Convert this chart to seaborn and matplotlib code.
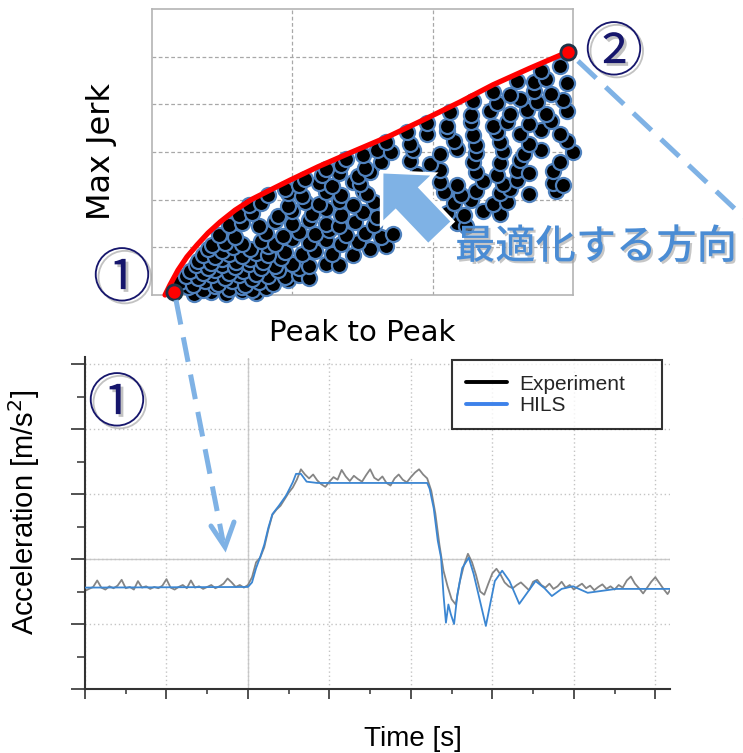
import numpy as np
import pandas as pd
import matplotlib
matplotlib.use("Agg")
import matplotlib.pyplot as plt
import seaborn as sns
from matplotlib.lines import Line2D
from matplotlib.patches import FancyArrow
from matplotlib.transforms import IdentityTransform
from matplotlib.ticker import MultipleLocator
import matplotlib.patheffects as pe

# ---------------- data : top chart (Pareto scatter) ----------------
designs = [
    (0.30, 0.03), (0.42, 0.07), (0.53, 0.02), (0.64, 0.08), (0.74, 0.04),
    (0.26, 0.16), (0.36, 0.11), (0.45, 0.19), (0.55, 0.12), (0.64, 0.17), (0.71, 0.10), (0.81, 0.15),
    (0.20, 0.27), (0.29, 0.22), (0.38, 0.30), (0.47, 0.24), (0.57, 0.29), (0.66, 0.21), (0.76, 0.28),
    (0.86, 0.23), (0.97, 0.31),
    (0.24, 0.40), (0.33, 0.35), (0.43, 0.42), (0.52, 0.36), (0.62, 0.41), (0.71, 0.34), (0.83, 0.40),
    (0.95, 0.37), (1.05, 0.43), (1.12, 0.35),
    (0.27, 0.50), (0.36, 0.46), (0.45, 0.53), (0.55, 0.47), (0.65, 0.51), (0.74, 0.45), (0.90, 0.52),
    (1.05, 0.56),
    (0.31, 0.62), (0.40, 0.57), (0.50, 0.63), (0.59, 0.58), (0.69, 0.64), (0.78, 0.56), (0.88, 0.61),
    (1.00, 0.66), (1.12, 0.60), (1.24, 0.64), (1.33, 0.62),
    (0.33, 0.72), (0.42, 0.68), (0.50, 0.75), (0.60, 0.70), (0.70, 0.76), (0.79, 0.69), (0.92, 0.78),
    (0.36, 0.83), (0.45, 0.79), (0.55, 0.86), (0.64, 0.81), (0.74, 0.88), (0.83, 0.84), (0.95, 0.90),
    (1.07, 0.85), (1.16, 0.93), (1.28, 0.87), (1.43, 0.84),
    (0.40, 0.96), (0.50, 0.92), (0.58, 1.00), (0.70, 0.97), (0.83, 1.03), (1.55, 0.96), (1.67, 1.02),
    (0.43, 1.05), (0.52, 1.10), (0.64, 1.06), (0.78, 1.14), (0.88, 1.08), (1.00, 1.18), (1.12, 1.10),
    (1.24, 1.16), (1.35, 1.07), (1.47, 1.12),
    (0.48, 1.26), (0.59, 1.22), (0.81, 1.30), (0.93, 1.24), (1.05, 1.33), (1.16, 1.27), (1.26, 1.36),
    (1.38, 1.25), (1.52, 1.31), (1.63, 1.22), (1.72, 1.28),
    (0.55, 1.46), (0.64, 1.52), (0.76, 1.45), (0.88, 1.55), (1.00, 1.48), (1.12, 1.58), (1.24, 1.50),
    (1.33, 1.44), (1.45, 1.54), (1.58, 1.47), (2.17, 1.52), (2.24, 1.45),
    (0.62, 1.68), (0.71, 1.72), (0.90, 1.66), (1.00, 1.76), (1.14, 1.70), (1.24, 1.80), (1.35, 1.68),
    (1.50, 1.74), (1.60, 1.64), (2.10, 1.73), (2.22, 1.68), (2.36, 1.76), (2.48, 1.70),
    (0.69, 1.88), (0.78, 1.93), (0.97, 1.87), (1.09, 1.96), (1.19, 1.90), (1.33, 1.98), (1.43, 1.89),
    (1.58, 1.95), (2.15, 1.92), (2.27, 1.99), (2.43, 1.90), (2.53, 1.96),
    (0.83, 2.10), (0.97, 2.14), (1.07, 2.08), (1.24, 2.16), (1.35, 2.09), (1.50, 2.18),
    (1.53, 2.12), (2.08, 2.16), (2.20, 2.10), (2.31, 2.19), (2.48, 2.13), (2.55, 2.22), (2.69, 2.12),
    (2.88, 2.18), (0.95, 2.22),
    (1.05, 2.30), (1.19, 2.35), (1.28, 2.28), (1.43, 2.37),
    (1.48, 2.32), (2.05, 2.38), (2.17, 2.31), (2.36, 2.40), (2.50, 2.33), (2.60, 2.41), (2.86, 2.36),
    (2.93, 2.30), (1.09, 2.44),
    (1.21, 2.52), (1.33, 2.56), (1.47, 2.50),
    (1.55, 2.58), (1.89, 2.54), (2.05, 2.62), (2.31, 2.57), (2.46, 2.52), (2.60, 2.63), (2.69, 2.55),
    (2.86, 2.60), (1.24, 2.64), (1.35, 2.72), (1.52, 2.66),
    (1.63, 2.78), (1.84, 2.82), (1.98, 2.74), (2.29, 2.80), (2.48, 2.76), (2.62, 2.84), (2.91, 2.78),
    (1.38, 2.85), (1.50, 2.93),
    (1.60, 3.05), (1.70, 2.99), (1.86, 3.04), (2.05, 2.96), (2.17, 3.06), (2.31, 2.98), (2.50, 3.03),
    (2.65, 2.95), (2.77, 3.05), (3.00, 2.99),
    (1.67, 3.20), (1.84, 3.16), (2.15, 3.24), (2.31, 3.15), (2.48, 3.22), (2.69, 3.17), (2.96, 3.23),
    (1.82, 3.42), (1.96, 3.37), (2.10, 3.45), (2.29, 3.36), (2.46, 3.43), (2.62, 3.38), (2.77, 3.46),
    (2.91, 3.37),
    (1.96, 3.60), (2.10, 3.55), (2.27, 3.63), (2.43, 3.54), (2.53, 3.62), (2.69, 3.58), (2.84, 3.64),
    (2.12, 3.84), (2.27, 3.78), (2.41, 3.86), (2.55, 3.80), (2.67, 3.88), (2.81, 3.79), (2.96, 3.85),
    (2.29, 4.08), (2.46, 4.03), (2.62, 4.11), (2.74, 4.04), (2.93, 4.10),
    (2.43, 4.25), (2.55, 4.20), (2.72, 4.28), (2.84, 4.22),
    (2.96, 4.44), (2.60, 4.50), (2.72, 4.46), (2.81, 4.53), (2.77, 4.70), (2.91, 4.80),
]
peak_to_peak = [d[0] for d in designs]
max_jerk = [d[1] for d in designs]

front_x = [0.093, 0.128, 0.185, 0.249, 0.321, 0.399, 0.485, 0.592, 0.713, 0.841, 0.984,
           1.183, 1.425, 1.696, 1.960, 2.195, 2.430, 2.694, 2.908, 2.965]
front_y = [0.00, 0.21, 0.52, 0.80, 1.05, 1.30, 1.53, 1.78, 2.01, 2.20, 2.41,
           2.69, 3.00, 3.34, 3.71, 4.05, 4.41, 4.76, 5.03, 5.10]
end_x = [0.16, 2.965]
end_y = [0.07, 5.10]

# ---------------- data : bottom chart (time response) ----------------
exp_time = np.round(np.linspace(-2.0, 5.2, 145), 2)
exp_acc = [
    -0.49, -0.46, -0.43, -0.33, -0.44, -0.47, -0.42, -0.45, -0.41, -0.32,
    -0.45, -0.43, -0.47, -0.34, -0.44, -0.42, -0.46, -0.43, -0.45, -0.41,
    -0.31, -0.44, -0.47, -0.43, -0.40, -0.45, -0.33, -0.44, -0.42, -0.46,
    -0.43, -0.40, -0.45, -0.42, -0.38, -0.30, -0.36, -0.43, -0.40, -0.44,
    -0.40, -0.28, -0.05, 0.02, 0.18, 0.45, 0.68, 0.76, 0.82, 0.92, 1.02, 1.10, 1.22, 1.38, 1.30,
    1.24, 1.30, 1.21, 1.15, 1.11, 1.19, 1.26, 1.22, 1.37, 1.27, 1.20, 1.28, 1.23, 1.19, 1.29,
    1.38, 1.25, 1.21, 1.27, 1.17, 1.13, 1.24, 1.30, 1.22, 1.18, 1.26, 1.33, 1.38, 1.30, 1.24,
    1.05, 0.70, 0.22, -0.18, -0.42, -0.62, -0.70, -0.35, -0.10, 0.08,
    -0.05, -0.25, -0.50, -0.55, -0.38, -0.22, -0.15, -0.24, -0.36, -0.42,
    -0.45, -0.40, -0.36, -0.42, -0.48, -0.35, -0.32, -0.40, -0.44, -0.38,
    -0.46, -0.42, -0.35, -0.44, -0.40, -0.47, -0.42, -0.38, -0.45, -0.41,
    -0.48, -0.43, -0.39, -0.46, -0.42, -0.47, -0.40, -0.44, -0.33, -0.27,
    -0.38, -0.45, -0.53, -0.44, -0.35, -0.28, -0.37, -0.46, -0.54, -0.44,
]
hils_time = [-2.0, 0.0, 0.05, 0.10, 0.15, 0.20, 0.25, 0.30, 0.38, 0.47, 0.55, 0.59, 0.65, 0.72, 0.85,
             2.20, 2.23, 2.28, 2.33, 2.37, 2.40, 2.43, 2.46, 2.49, 2.53, 2.57, 2.63, 2.71, 2.77, 2.83,
             2.92, 2.98, 3.03, 3.12, 3.21, 3.33, 3.41, 3.53, 3.64, 3.73, 3.85, 3.99, 4.17, 4.52, 5.20]
hils_acc = [-0.44, -0.43, -0.36, -0.14, 0.03, 0.22, 0.48, 0.69, 0.82, 0.98, 1.18, 1.31, 1.31, 1.19, 1.17,
            1.17, 1.08, 0.78, 0.28, 0.02, -0.55, -0.98, -0.70, -0.85, -1.00, -0.55, -0.14, 0.02, -0.23, -0.55,
            -1.03, -0.65, -0.34, -0.18, -0.34, -0.69, -0.55, -0.34, -0.45, -0.57, -0.46, -0.42, -0.52, -0.46, -0.46]
legend_labels = ["Experiment", "HILS"]

# ---------------- figure ----------------
sns.set_style("white")
plt.rcParams["font.family"] = ["DejaVu Sans"]

W, H = 743, 753
fig = plt.figure(figsize=(W / 100, H / 100), dpi=100)
fig.patch.set_facecolor("white")

# ---- top chart ----
ax_t = fig.add_axes([152 / W, (H - 295) / H, 421 / W, 286 / H])
sns.scatterplot(x=peak_to_peak, y=max_jerk, ax=ax_t, s=118, color="black",
                edgecolor="#4f81bd", linewidth=1.6, zorder=3, legend=False)
ax_t.collections[-1].set_clip_on(False)
sns.lineplot(x=front_x, y=front_y, ax=ax_t, color="#ff0000", linewidth=3.8,
             sort=False, estimator=None, zorder=4)
ax_t.lines[-1].set_clip_on(False)
sns.scatterplot(x=end_x, y=end_y, ax=ax_t, s=120, color="#ff0000",
                edgecolor="#1d3448", linewidth=2.0, zorder=5, legend=False)
ax_t.collections[-1].set_clip_on(False)

ax_t.set_xlim(0, 3)
ax_t.set_ylim(0, 6)
ax_t.set_xticks([1, 2])
ax_t.set_yticks([1, 2, 3, 4, 5])
ax_t.set_axisbelow(True)
ax_t.grid(True, linestyle=(0, (3, 2)), color="#a8a8a8", linewidth=0.9)
ax_t.tick_params(length=0, labelbottom=False, labelleft=False)
for s in ax_t.spines.values():
    s.set_color("#b4b4b4")
    s.set_linewidth(1.2)

ax_t.set_xlabel("Peak to Peak", fontsize=21, color="black")
ax_t.xaxis.label.set_visible(True)
ax_t.xaxis.set_label_coords(0.5, -0.085)
ax_t.set_ylabel("Max Jerk", fontsize=23, color="black")
ax_t.yaxis.label.set_visible(True)
ax_t.yaxis.set_label_coords(-0.082, 0.5)

# ---- bottom chart ----
ax_b = fig.add_axes([85 / W, (H - 689) / H, 585 / W, 331.5 / H])
sns.lineplot(x=exp_time, y=exp_acc, ax=ax_b, color="#858585", linewidth=1.3,
             sort=False, estimator=None, zorder=2)
sns.lineplot(x=hils_time, y=hils_acc, ax=ax_b, color="#3b86d2", linewidth=1.3,
             sort=False, estimator=None, zorder=3)

ax_b.set_xlim(-2, 5.18)
ax_b.set_ylim(-2, 3.1)
ax_b.xaxis.set_major_locator(MultipleLocator(1))
ax_b.xaxis.set_minor_locator(MultipleLocator(0.5))
ax_b.yaxis.set_major_locator(MultipleLocator(1))
ax_b.yaxis.set_minor_locator(MultipleLocator(0.5))
ax_b.set_axisbelow(True)
ax_b.grid(True, which="major", linestyle=(0, (1, 2)), color="#c4c4c4", linewidth=1.0)
ax_b.axhline(0, color="#cccccc", linewidth=1.0, zorder=0.5)
ax_b.axvline(0, color="#cccccc", linewidth=1.0, zorder=0.5)
ax_b.tick_params(axis="both", which="both", direction="out", color="#333333",
                 labelbottom=False, labelleft=False, bottom=True, left=True)
ax_b.tick_params(axis="y", which="major", length=10, width=1.2)
ax_b.tick_params(axis="y", which="minor", length=6, width=1.1)
ax_b.tick_params(axis="x", which="major", length=7, width=1.2)
ax_b.tick_params(axis="x", which="minor", length=3.5, width=1.1)
for side in ["top", "right"]:
    ax_b.spines[side].set_visible(False)
for side in ["left", "bottom"]:
    ax_b.spines[side].set_color("#333333")
    ax_b.spines[side].set_linewidth(1.5)

handles = [Line2D([0], [0], color="black", linewidth=2.8),
           Line2D([0], [0], color="#3d82ea", linewidth=2.8)]
leg = ax_b.legend(handles, legend_labels, loc="upper left",
                  bbox_to_anchor=(0.627, 0.781, 0.359, 0.211), mode="expand",
                  prop={"family": "Liberation Sans", "size": 15}, frameon=True, fancybox=False,
                  handlelength=1.95, handletextpad=0.6, labelspacing=0.1, borderpad=0.7,
                  borderaxespad=0.0)
leg.get_frame().set_edgecolor("black")
leg.get_frame().set_linewidth(1.5)

ax_b.set_xlabel("Time [s]", fontsize=20, family="Liberation Sans", color="black")
ax_b.xaxis.label.set_visible(True)
ax_b.xaxis.set_label_coords(0.561, -0.112)
ax_b.set_ylabel("Acceleration [m/s$^2$]", fontsize=21, family="Liberation Sans", color="black")
ax_b.yaxis.label.set_visible(True)
ax_b.yaxis.set_label_coords(-0.073, 0.534)

# ---------------- annotations (figure pixels) ----------------
IT = IdentityTransform()
blue = "#7fb2e5"

def P(x, y):
    return x, H - y

# big "optimisation direction" arrow
tx, ty = P(440.5, 233.3)
arrow = FancyArrow(tx, ty, -58.8, 61.6, width=34, head_width=73, head_length=38,
                   length_includes_head=True, facecolor=blue, edgecolor="white",
                   linewidth=2.5, transform=IT, zorder=10)
fig.add_artist(arrow)

# dashed connectors
x1, y1 = P(176, 300)
x2, y2 = P(223, 541)
fig.add_artist(Line2D([x1, x2], [y1, y2], transform=IT, color=blue, linewidth=3.6,
                      linestyle=(0, (5, 2.6)), dash_capstyle="butt", zorder=9))
ax_, ay_ = P(211, 526)
tx_, ty_ = P(225, 547)
bx_, by_ = P(234, 522)
fig.add_artist(Line2D([ax_, tx_, bx_], [ay_, ty_, by_], transform=IT, color=blue,
                      linewidth=3.6, solid_joinstyle="miter", zorder=9))
x3, y3 = P(578, 61)
x4, y4 = P(752, 225)
fig.add_artist(Line2D([x3, x4], [y3, y4], transform=IT, color=blue, linewidth=3.6,
                      linestyle=(0, (5, 2.6)), dash_capstyle="butt", zorder=9))

shadow = [pe.SimplePatchShadow(offset=(2, -2), shadow_rgbFace="#9a9a9a", alpha=0.6), pe.Normal()]
cjk = ["Noto Sans CJK JP", "DejaVu Sans"]
navy = "#16166c"
for (cx, cy), s in [((122, 280), "①"), ((614, 54), "②"), ((117, 405), "①")]:
    fx, fy = P(cx, cy)
    fig.text(fx / W, fy / H, s, fontsize=42, color=navy, family=cjk,
             ha="center", va="center", path_effects=shadow, zorder=11)

jx, jy = P(455, 247)
fig.text(jx / W, jy / H, "最適化する方向", fontsize=29, color="#4a8cd4", family=cjk,
         weight="medium", ha="left", va="center",
         path_effects=[pe.SimplePatchShadow(offset=(1.5, -1.5), shadow_rgbFace="#a0a0a0", alpha=0.6),
                       pe.Normal()], zorder=11)

fig.savefig("out.png", dpi=100, facecolor="white")
